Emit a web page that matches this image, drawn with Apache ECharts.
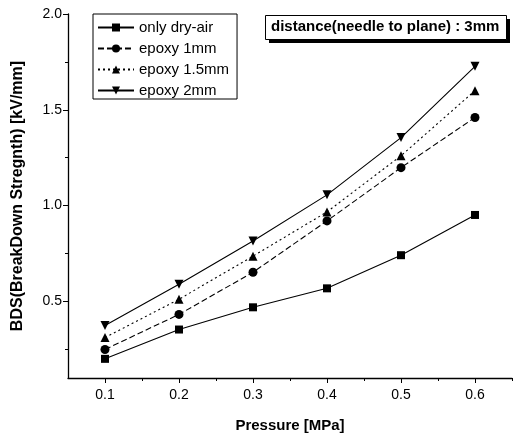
<!DOCTYPE html>
<html>
<head>
<meta charset="utf-8">
<script src="https://cdn.jsdelivr.net/npm/echarts@6/dist/echarts.min.js"></script>
<style>html,body{margin:0;padding:0;background:#fff}#c{width:520px;height:439px}</style>
</head>
<body>
<div id="c"></div>
<script>
const pressure = [0.1, 0.2, 0.3, 0.4, 0.5, 0.6];
const dryAir   = [0.20, 0.353, 0.469, 0.568, 0.741, 0.951];
const epoxy1   = [0.249, 0.432, 0.652, 0.92, 1.198, 1.46];
const epoxy15  = [0.311, 0.511, 0.736, 0.967, 1.26, 1.60];
const epoxy2   = [0.374, 0.589, 0.815, 1.056, 1.355, 1.727];
const xTicks = [0.1, 0.2, 0.3, 0.4, 0.5, 0.6];
const xMinor = [0.15, 0.25, 0.35, 0.45, 0.55, 0.65];
const yTicks = [0.5, 1.0, 1.5, 2.0];
const yMinor = [0.25, 0.75, 1.25, 1.75];
const seriesNames = ['only dry-air', 'epoxy 1mm', 'epoxy 1.5mm', 'epoxy 2mm'];
const annotation = 'distance(needle to plane) : 3mm';

const font = 'Liberation Sans, Arial, sans-serif';
const pair = arr => pressure.map((p, i) => [p, arr[i]]);
const chart = echarts.init(document.getElementById('c'), null, {renderer: 'canvas'});

const baseSeries = (name, data, symbol, lineType, rot) => ({
  name, type: 'line', data: pair(data), symbol, symbolSize: symbol === 'rect' ? 8 : 9,
  symbolRotate: rot || 0,
  lineStyle: {color: '#000', width: 1.1, type: lineType},
  itemStyle: {color: '#000'}, animation: false, z: 3
});

chart.setOption({
  animation: false,
  grid: {left: 68, right: 8, top: 14, bottom: 61, containLabel: false},
  xAxis: [{
    type: 'value', min: 0.05, max: 0.65,
    name: 'Pressure [MPa]', nameLocation: 'middle', nameGap: 40,
    nameTextStyle: {fontFamily: font, fontSize: 15, fontWeight: 'bold', color: '#000'},
    axisLine: {show: true, onZero: false, lineStyle: {color: '#000', width: 1.3}},
    axisTick: {show: true, inside: false, length: 5, customValues: xTicks, lineStyle: {color: '#000'}},
    axisLabel: {customValues: xTicks, formatter: v => v.toFixed(1), fontFamily: font, fontSize: 14, color: '#000', margin: 10},
    splitLine: {show: false}
  }, {
    type: 'value', min: 0.05, max: 0.65, position: 'bottom',
    axisLine: {show: false},
    axisTick: {show: true, length: 3, customValues: xMinor, lineStyle: {color: '#000'}},
    axisLabel: {show: false}, splitLine: {show: false}
  }],
  yAxis: [{
    type: 'value', min: 0.1, max: 2.0,
    name: 'BDS(BreakDown Stregnth) [kV/mm]', nameLocation: 'middle', nameGap: 42,
    nameTextStyle: {fontFamily: font, fontSize: 16, fontWeight: 'bold', color: '#000'},
    axisLine: {show: true, onZero: false, lineStyle: {color: '#000', width: 1.3}},
    axisTick: {show: true, inside: false, length: 5, customValues: yTicks, lineStyle: {color: '#000'}},
    axisLabel: {customValues: yTicks, formatter: v => v.toFixed(1), fontFamily: font, fontSize: 14, color: '#000', margin: 6},
    splitLine: {show: false}
  }, {
    type: 'value', min: 0.1, max: 2.0, position: 'left',
    axisLine: {show: false},
    axisTick: {show: true, length: 3, customValues: yMinor, lineStyle: {color: '#000'}},
    axisLabel: {show: false}, splitLine: {show: false}
  }],
  legend: {
    orient: 'vertical', left: 93, top: 14,
    data: seriesNames,
    backgroundColor: '#fff', borderColor: '#000', borderWidth: 1,
    padding: [6, 8, 1, 4], itemWidth: 36, itemHeight: 10, itemGap: 6,
    textStyle: {fontFamily: font, fontSize: 15, color: '#000'},
    selectedMode: false
  },
  graphic: [
    {type: 'rect', left: 269, top: 19, shape: {width: 241, height: 24}, style: {fill: '#000'}, z: 10},
    {type: 'rect', left: 265, top: 15, shape: {width: 241, height: 24}, style: {fill: '#fff', stroke: '#000', lineWidth: 1}, z: 11},
    {type: 'text', left: 271, top: 19, style: {text: annotation, font: 'bold 15px ' + font, fill: '#000'}, z: 12}
  ],
  series: [
    baseSeries(seriesNames[0], dryAir, 'rect', 'solid'),
    baseSeries(seriesNames[1], epoxy1, 'circle', [6, 3]),
    baseSeries(seriesNames[2], epoxy15, 'triangle', [2, 3]),
    baseSeries(seriesNames[3], epoxy2, 'triangle', 'solid', 180)
  ]
});
</script>
</body>
</html>
